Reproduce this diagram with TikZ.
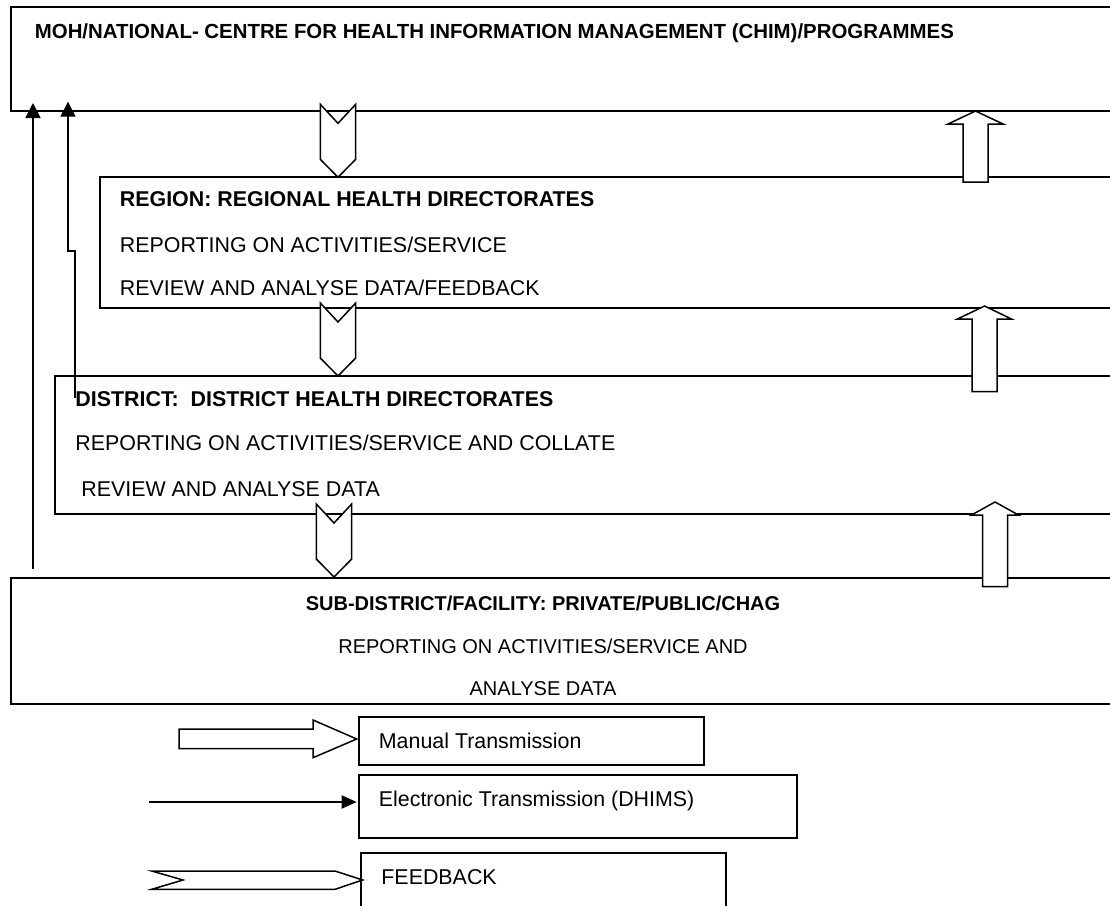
\documentclass[tikz,border=0pt]{standalone}
\usepackage{fontspec}
\setmainfont{Liberation Sans}
\usetikzlibrary{arrows.meta,positioning}
\tikzset{%
  box/.style = { line width=1pt },
  blockarrow/.style = { draw, fill=white, line width=0.75pt, line join=miter },
  head/.style = { anchor=base west, inner sep=0pt, font=\fontsize{10.7}{12}\selectfont\bfseries },
  body/.style = { anchor=base west, inner sep=0pt },
  centred/.style = { anchor=base, inner sep=0pt, font=\fontsize{10}{12}\selectfont },
  elink/.style = { line width=0.9pt, -{Triangle[length=7.5pt,width=7.5pt]} }
}

\begin{document}
\begin{tikzpicture}[x=0.5pt, y=-0.5pt, font=\fontsize{10.7}{12}\selectfont]
  \useasboundingbox (0,0) rectangle (1110,906);
  \clip (0,0) rectangle (1110,906);

  % National level
  \draw[box] (11,7) rectangle (1130,111);
  \node[head,font=\fontsize{10.2}{12}\selectfont\bfseries] (national) at (34.5,38.3) {MOH/NATIONAL- CENTRE FOR HEALTH INFORMATION MANAGEMENT (CHIM)/PROGRAMMES};

  % Region level
  \draw[box] (100,176.7) rectangle (1130,307.7);
  \node[head] (region) at (119.5,206.7) {REGION: REGIONAL HEALTH DIRECTORATES};
  \node[body] (regionrep) at (119.5,252.3) {REPORTING ON ACTIVITIES/SERVICE};
  \node[body] (regionrev) at (119.5,295.7) {REVIEW AND ANALYSE DATA/FEEDBACK};

  % District level
  \draw[box] (55,376) rectangle (1130,514);
  \node[head] (district) at (75,406.7) {DISTRICT:\ \ DISTRICT HEALTH DIRECTORATES};
  \node[body] (districtrep) at (75,450.7) {REPORTING ON ACTIVITIES/SERVICE AND COLLATE};
  \node[body] (districtrev) at (75,496) {\ REVIEW AND ANALYSE DATA};

  % Sub-district level
  \draw[box] (11,578) rectangle (1130,703.5);
  \node[centred,font=\fontsize{10}{12}\selectfont\bfseries] (subdistrict) at (543,610) {SUB-DISTRICT/FACILITY: PRIVATE/PUBLIC/CHAG};
  \node[centred] (subrep) at (543,653) {REPORTING ON ACTIVITIES/SERVICE AND};
  \node[centred] (subrev) at (543,695) {ANALYSE DATA};

  % Feedback (down)
  \foreach \cx/\yt in {338/104.3, 338/303, 334/504} {
    \draw[blockarrow] (\cx-17.7,\yt) -- (\cx,\yt+19) -- (\cx+17.7,\yt) -- (\cx+17.7,\yt+55)
      -- (\cx,\yt+73) -- (\cx-17.7,\yt+55) -- cycle;
  }

  % Manual transmission (up)
  \foreach \cx/\yt/\yb/\hw in {975.5/111/182/27.5, 984.5/306/391.7/27, 995/502/586.7/23.5} {
    \draw[blockarrow] (\cx,\yt) -- (\cx+\hw,\yt+13) -- (\cx+12.5,\yt+13) -- (\cx+12.5,\yb)
      -- (\cx-12.5,\yb) -- (\cx-12.5,\yt+13) -- (\cx-\hw,\yt+13) -- cycle;
  }

  % Electronic transmission (DHIMS)
  \coordinate (fromsub) at (33,569);
  \coordinate (tonat1) at (33,103);
  \coordinate (fromdist) at (75,398);
  \coordinate (jog) at (68,251);
  \coordinate (tonat2) at (68,101.7);
  \draw[elink] (fromsub) -- (tonat1);
  \draw[elink] (fromdist) |- (jog) -- (tonat2);

  % Legend
  \draw[blockarrow] (179,729) -- (313,729) -- (313,720) -- (356.7,739) -- (313,757.7)
    -- (313,748.7) -- (179,748.7) -- cycle;
  \draw[box] (358.7,717) rectangle (704.3,765);
  \node[body] (manual) at (378.5,748) {Manual Transmission};

  \coordinate (etail) at (149,802);
  \coordinate (ehead) at (356.7,802);
  \draw[line width=0.9pt, -{Triangle[length=7.5pt,width=6.5pt]}] (etail) -- (ehead);
  \draw[box] (358.7,775.3) rectangle (797.3,838.3);
  \node[body] (electronic) at (378.5,806.7) {Electronic Transmission (DHIMS)};

  \draw[blockarrow] (151.7,871) -- (335,871) -- (362.7,880) -- (335,889.3) -- (151.7,889.3)
    -- (183,880) -- cycle;
  \draw[box] (361,853.3) rectangle (726,930);
  \node[body] (feedback) at (381,884) {FEEDBACK};

\end{tikzpicture}
\end{document}
